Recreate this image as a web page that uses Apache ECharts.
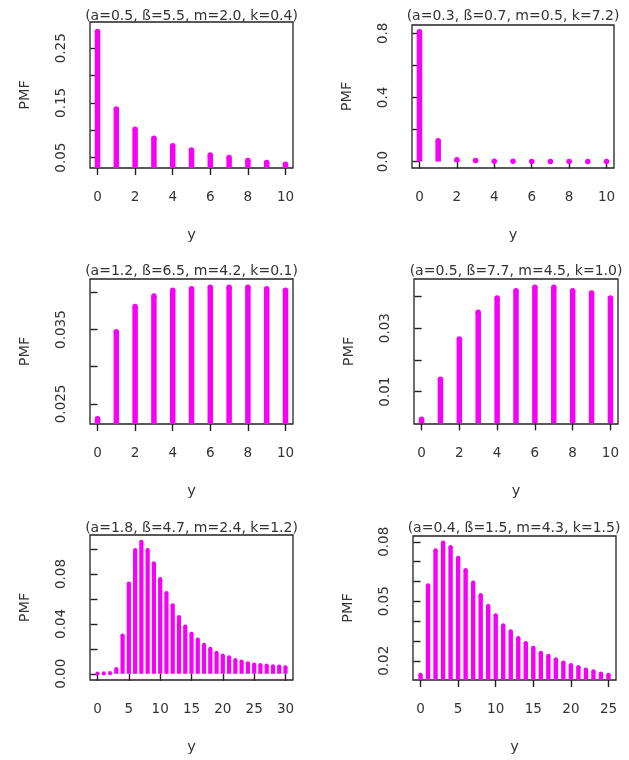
<!DOCTYPE html>
<html>
<head>
<meta charset="utf-8">
<script src="https://cdn.jsdelivr.net/npm/echarts@6/dist/echarts.min.js"></script>
<style>
html,body{margin:0;padding:0;background:#ffffff;}
#chart{width:629px;height:760px;}
</style>
</head>
<body>
<div id="chart"></div>
<script>
// ---------- data ----------
const panelTitles = [
  '(a=0.5, ß=5.5, m=2.0, k=0.4)',
  '(a=0.3, ß=0.7, m=0.5, k=7.2)',
  '(a=1.2, ß=6.5, m=4.2, k=0.1)',
  '(a=0.5, ß=7.7, m=4.5, k=1.0)',
  '(a=1.8, ß=4.7, m=2.4, k=1.2)',
  '(a=0.4, ß=1.5, m=4.3, k=1.5)'
];
const xAxisName = 'y';
const yAxisName = 'PMF';

const ySupport10 = [0, 1, 2, 3, 4, 5, 6, 7, 8, 9, 10];
const ySupport30 = [0, 1, 2, 3, 4, 5, 6, 7, 8, 9, 10, 11, 12, 13, 14, 15, 16, 17, 18, 19, 20, 21, 22, 23, 24, 25, 26, 27, 28, 29, 30];
const ySupport25 = [0, 1, 2, 3, 4, 5, 6, 7, 8, 9, 10, 11, 12, 13, 14, 15, 16, 17, 18, 19, 20, 21, 22, 23, 24, 25];

const pmf1 = [0.2808, 0.1387, 0.102, 0.0856, 0.0716, 0.0637, 0.055, 0.050, 0.0445, 0.041, 0.038];
const pmf2 = [0.81, 0.13, 0.012, 0.007, 0.002, 0.0015, 0.001, 0.001, 0.0008, 0.0006, 0.0005];
const pmf3 = [0.0230, 0.0347, 0.0381, 0.0395, 0.0403, 0.0405, 0.0407, 0.0407, 0.0407, 0.0405, 0.0403];
const pmf4 = [0.0013, 0.0139, 0.0266, 0.0350, 0.0395, 0.0418, 0.0429, 0.0429, 0.0418, 0.0411, 0.0395];
const pmf5 = [0.0002, 0.0003, 0.0005, 0.0038, 0.0307, 0.0723, 0.0992, 0.1059, 0.0992, 0.0885, 0.0759,
              0.0648, 0.0549, 0.0455, 0.0379, 0.0320, 0.0274, 0.0231, 0.0199, 0.0167, 0.0145,
              0.0132, 0.0110, 0.0097, 0.0084, 0.0073, 0.0070, 0.0065, 0.0059, 0.0057, 0.0051];
const pmf6 = [0.0129, 0.0580, 0.0756, 0.0795, 0.0773, 0.0718, 0.0656, 0.0593, 0.0530, 0.0476, 0.0429,
              0.0378, 0.0348, 0.0314, 0.0289, 0.0264, 0.0240, 0.0224, 0.0207, 0.0190, 0.0177,
              0.0168, 0.0155, 0.0146, 0.0135, 0.0129];

const xTicks10 = [0, 2, 4, 6, 8, 10];
const xTicks30 = [0, 5, 10, 15, 20, 25, 30];
const xTicks25 = [0, 5, 10, 15, 20, 25];

const yTicks1 = [0.05, 0.10, 0.15, 0.20, 0.25];
const yLabels1 = ['0.05', '', '0.15', '', '0.25'];
const yTicks2 = [0.0, 0.2, 0.4, 0.6, 0.8];
const yLabels2 = ['0.0', '', '0.4', '', '0.8'];
const yTicks3 = [0.025, 0.030, 0.035, 0.040];
const yLabels3 = ['0.025', '', '0.035', ''];
const yTicks4 = [0.01, 0.02, 0.03, 0.04];
const yLabels4 = ['0.01', '', '0.03', ''];
const yTicks5 = [0.00, 0.02, 0.04, 0.06, 0.08, 0.10];
const yLabels5 = ['0.00', '', '0.04', '', '0.08', ''];
const yTicks6 = [0.02, 0.03, 0.04, 0.05, 0.06, 0.07, 0.08];
const yLabels6 = ['0.02', '', '', '0.05', '', '', '0.08'];

// ---------- layout / style ----------
const panels = [
  {x: ySupport10, y: pmf1, xt: xTicks10, yt: yTicks1, yl: yLabels1, xr: [-0.4, 10.4], yr: [0.031, 0.298], box: [90, 22, 203, 146], bw: 5.5, tc: 191.5, tt: 9},
  {x: ySupport10, y: pmf2, xt: xTicks10, yt: yTicks2, yl: yLabels2, xr: [-0.4, 10.4], yr: [-0.04, 0.852], box: [412, 25, 202, 143], bw: 5.5, tc: 513, tt: 9},
  {x: ySupport10, y: pmf3, xt: xTicks10, yt: yTicks3, yl: yLabels3, xr: [-0.4, 10.4], yr: [0.0223, 0.0418], box: [90, 279, 203, 145], bw: 5.5, tc: 191.5, tt: 264.5},
  {x: ySupport10, y: pmf4, xt: xTicks10, yt: yTicks4, yl: yLabels4, xr: [-0.4, 10.4], yr: [-0.0002, 0.0455], box: [414, 279, 204, 145], bw: 5.5, tc: 516, tt: 264.5},
  {x: ySupport30, y: pmf5, xt: xTicks30, yt: yTicks5, yl: yLabels5, xr: [-1.2, 31.2], yr: [-0.005, 0.1113], box: [90, 535, 203, 145], bw: 4.2, tc: 191.5, tt: 521},
  {x: ySupport25, y: pmf6, xt: xTicks25, yt: yTicks6, yl: yLabels6, xr: [-1, 26], yr: [0.0103, 0.0829], box: [413, 536, 203, 144], bw: 4.4, tc: 514, tt: 521}
];

const FONT = 'DejaVu Sans';
const TXT = '#333333';
const AX = '#222222';
const MAG = '#f700f7';

const option = {
  animation: false,
  backgroundColor: '#ffffff',
  title: [], grid: [], xAxis: [], yAxis: [], series: []
};

panels.forEach((p, i) => {
  option.title.push({
    text: panelTitles[i], left: p.tc, top: p.tt, textAlign: 'center', padding: 0,
    textStyle: {fontFamily: FONT, fontSize: 14, fontWeight: 'normal', color: TXT}
  });
  option.grid.push({
    left: p.box[0], top: p.box[1], width: p.box[2], height: p.box[3],
    show: true, borderColor: AX, borderWidth: 1.3, backgroundColor: 'transparent', containLabel: false
  });
  option.xAxis.push({
    type: 'value', gridIndex: i, min: p.xr[0], max: p.xr[1],
    name: xAxisName, nameLocation: 'middle', nameGap: 60,
    nameTextStyle: {fontFamily: FONT, fontSize: 14.5, color: TXT},
    axisLine: {show: false}, splitLine: {show: false},
    axisTick: {show: true, length: 7, inside: false, customValues: p.xt, lineStyle: {color: AX, width: 1.4}},
    axisLabel: {show: true, margin: 22, customValues: p.xt, fontFamily: FONT, fontSize: 13.5, color: TXT,
      formatter: v => String(v)}
  });
  const labelled = p.yt.filter((t, j) => p.yl[j] !== '');
  option.yAxis.push({
    type: 'value', gridIndex: i, min: p.yr[0], max: p.yr[1],
    name: yAxisName, nameLocation: 'middle', nameGap: 57,
    nameTextStyle: {fontFamily: FONT, fontSize: 14.5, color: TXT},
    axisLine: {show: false}, splitLine: {show: false},
    axisTick: {show: true, length: 7, inside: false, customValues: p.yt, lineStyle: {color: AX, width: 1.4}},
    axisLabel: {show: true, margin: 22, rotate: 90, customValues: labelled, fontFamily: FONT, fontSize: 13.5, color: TXT,
      formatter: v => {
        const k = p.yt.findIndex(t => Math.abs(t - v) < 1e-9);
        return k >= 0 ? p.yl[k] : '';
      }}
  });
  const pts = p.x.map((xv, j) => [xv, p.y[j]]);
  option.series.push({
    type: 'bar', xAxisIndex: i, yAxisIndex: i, data: pts, barWidth: p.bw,
    itemStyle: {color: MAG}, silent: true, clip: true
  });
  option.series.push({
    type: 'scatter', xAxisIndex: i, yAxisIndex: i, data: pts, symbol: 'circle', symbolSize: p.bw,
    itemStyle: {color: MAG, opacity: 1}, silent: true, clip: true
  });
});

const chart = echarts.init(document.getElementById('chart'), null, {renderer: 'canvas'});
chart.setOption(option);
</script>
</body>
</html>
